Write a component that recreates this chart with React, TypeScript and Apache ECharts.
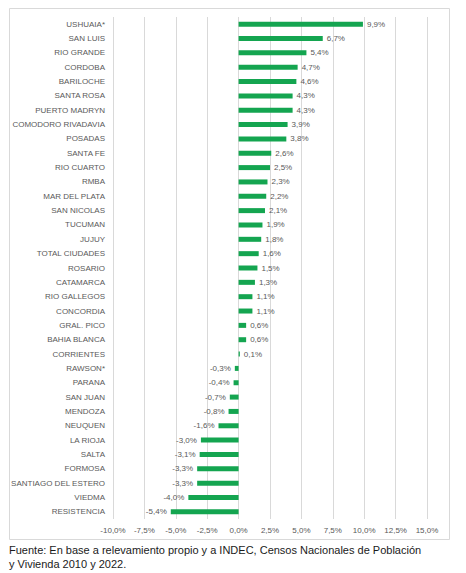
import React, { useEffect, useRef } from 'react';
import * as echarts from 'echarts';

// ciudades, de arriba hacia abajo
const ciudades: string[] = [
  'USHUAIA*', 'SAN LUIS', 'RIO GRANDE', 'CORDOBA', 'BARILOCHE', 'SANTA ROSA',
  'PUERTO MADRYN', 'COMODORO RIVADAVIA', 'POSADAS', 'SANTA FE', 'RIO CUARTO',
  'RMBA', 'MAR DEL PLATA', 'SAN NICOLAS', 'TUCUMAN', 'JUJUY', 'TOTAL CIUDADES',
  'ROSARIO', 'CATAMARCA', 'RIO GALLEGOS', 'CONCORDIA', 'GRAL. PICO',
  'BAHIA BLANCA', 'CORRIENTES', 'RAWSON*', 'PARANA', 'SAN JUAN', 'MENDOZA',
  'NEUQUEN', 'LA RIOJA', 'SALTA', 'FORMOSA', 'SANTIAGO DEL ESTERO', 'VIEDMA',
  'RESISTENCIA'
];

// variación porcentual
const variacion: number[] = [
  9.9, 6.7, 5.4, 4.7, 4.6, 4.3, 4.3, 3.9, 3.8, 2.6, 2.5, 2.3, 2.2, 2.1, 1.9,
  1.8, 1.6, 1.5, 1.3, 1.1, 1.1, 0.6, 0.6, 0.1, -0.3, -0.4, -0.7, -0.8, -1.6,
  -3.0, -3.1, -3.3, -3.3, -4.0, -5.4
];

// escala del eje x
const ejeMin = -10;
const ejeMax = 15;
const ejePaso = 2.5;

const fuente =
  'Fuente: En base a relevamiento propio y a INDEC, Censos Nacionales de Población\ny Vivienda 2010 y 2022.';

const formatoPct = (v: number): string => v.toFixed(1).replace('.', ',') + '%';

const App: React.FC = () => {
  const chartRef = useRef<HTMLDivElement>(null);

  useEffect(() => {
    if (!chartRef.current) return;
    const chart = echarts.init(chartRef.current, undefined, { renderer: 'svg' });

    // positivos a la derecha, negativos a la izquierda
    const datos = variacion.map((v) => ({
      value: v,
      label: { position: v < 0 ? 'left' : 'right' }
    }));

    const option = {
      animation: false,
      textStyle: { fontFamily: 'Liberation Sans' },
      graphic: [
        {
          type: 'rect',
          shape: { x: 9.5, y: 8.5, width: 440, height: 531 },
          style: { fill: 'none', stroke: '#d9d9d9', lineWidth: 1 },
          silent: true
        }
      ],
      title: {
        text: fuente,
        left: 9,
        top: 543,
        padding: 0,
        textStyle: {
          fontSize: 11,
          fontWeight: 'normal',
          color: '#1a1a1a',
          lineHeight: 14,
          fontFamily: 'Liberation Sans'
        }
      },
      grid: {
        left: 113,
        right: 39,
        top: 17,
        bottom: 54,
        containLabel: false
      },
      xAxis: {
        type: 'value',
        min: ejeMin,
        max: ejeMax,
        interval: ejePaso,
        axisLine: { show: false },
        axisTick: { show: false },
        splitLine: { show: true, lineStyle: { color: '#d9d9d9', width: 1 } },
        axisLabel: {
          formatter: (v: number) => formatoPct(v),
          color: '#595959',
          fontSize: 8,
          margin: 7
        }
      },
      yAxis: {
        type: 'category',
        data: ciudades,
        inverse: true,
        axisLine: { show: false },
        axisTick: { show: false },
        axisLabel: {
          color: '#595959',
          fontSize: 8,
          margin: 8,
          interval: 0
        }
      },
      series: [
        {
          type: 'bar',
          data: datos,
          barWidth: 5,
          itemStyle: { color: '#14a550' },
          label: {
            show: true,
            fontSize: 8,
            color: '#595959',
            distance: 4,
            formatter: (p: any) => formatoPct(p.value)
          }
        }
      ]
    };

    chart.setOption(option as any);

    return () => {
      chart.dispose();
    };
  }, []);

  return (
    <div
      ref={chartRef}
      style={{ position: 'absolute', left: 0, top: 0, width: 466, height: 573, background: '#fff' }}
    />
  );
};

export default App;
